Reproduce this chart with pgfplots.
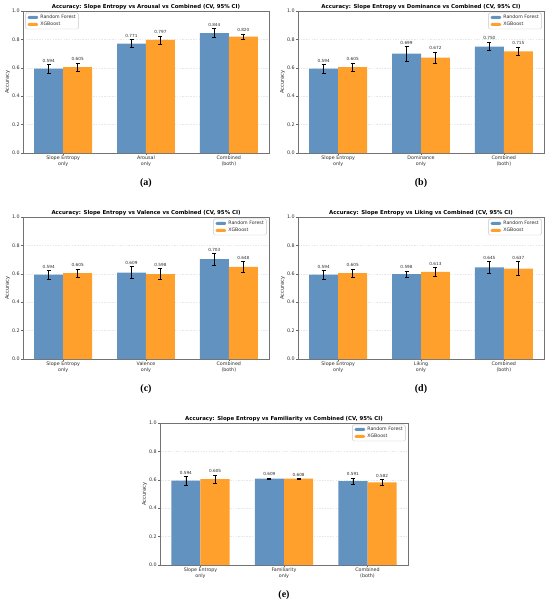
\documentclass[border=0pt]{standalone}
\usepackage{fontspec}
\setmainfont{DejaVu Sans}
\newfontfamily\capfont{Liberation Serif}
\usepackage{pgfplots}
\pgfplotsset{compat=1.18}
\usepackage{pgfplotstable}
\definecolor{rfblue}{RGB}{98,146,192}
\definecolor{xgorange}{RGB}{255,160,44}
\definecolor{txt}{RGB}{45,45,45}

\pgfplotstableread{
x m e
-0.175 0.594 0.030
0.825 0.771 0.030
1.825 0.844 0.031
}\aRF
\pgfplotstableread{
x m e
0.175 0.605 0.030
1.175 0.797 0.028
2.175 0.820 0.018
}\aXG
\pgfplotstableread{
x m e
-0.175 0.594 0.030
0.825 0.699 0.050
1.825 0.750 0.030
}\bRF
\pgfplotstableread{
x m e
0.175 0.605 0.030
1.175 0.672 0.040
2.175 0.715 0.030
}\bXG
\pgfplotstableread{
x m e
-0.175 0.594 0.030
0.825 0.609 0.042
1.825 0.703 0.041
}\cRF
\pgfplotstableread{
x m e
0.175 0.605 0.030
1.175 0.598 0.040
2.175 0.648 0.040
}\cXG
\pgfplotstableread{
x m e
-0.175 0.594 0.030
0.825 0.598 0.020
1.825 0.645 0.041
}\dRF
\pgfplotstableread{
x m e
0.175 0.605 0.030
1.175 0.613 0.030
2.175 0.637 0.050
}\dXG
\pgfplotstableread{
x m e
-0.175 0.594 0.030
0.825 0.609 0.002
1.825 0.591 0.021
}\eRF
\pgfplotstableread{
x m e
0.175 0.605 0.030
1.175 0.608 0.002
2.175 0.582 0.019
}\eXG

\pgfplotsset{
  /pgf/number format/assume math mode=true,
  panel/.style={
    scale only axis, height=142pt,
    xmin=-0.485, xmax=2.485, ymin=0, ymax=1,
    ytick={0,0.2,0.4,0.6,0.8,1.0},
    yticklabel style={/pgf/number format/fixed, /pgf/number format/zerofill, /pgf/number format/precision=1, inner sep=1.2pt},
    xtick={0,1,2},
    xtick pos=bottom, ytick pos=left,
    tick align=outside, major tick length=1.8pt,
    tick style={black!60, line width=0.4pt},
    axis line style={black!55, line width=0.5pt},
    ticklabel style={font=\fontsize{4.8}{6}\selectfont, text=txt},
    xticklabel style={align=center, inner sep=1pt},
    ymajorgrids, major grid style={dash pattern=on 1.5pt off 1.2pt, black!9, line width=0.4pt},
    ylabel={Accuracy},
    ylabel style={font=\fontsize{5.2}{6}\selectfont, text=txt, inner sep=0.8pt},
    title style={font=\bfseries\fontsize{5.4}{6}\selectfont, at={(0.5,1)}, anchor=south, inner sep=0pt, yshift=-4.6pt},
    legend cell align=left,
    legend image code/.code={\fill[##1] (0pt,-1.5pt) rectangle (10.5pt,1.5pt);},
    clip=false,
  },
  rfbar/.style={ybar, bar width=0.35, bar shift=0pt, fill=rfblue, draw=none,
    error bars/.cd, y dir=both, y explicit,
    error bar style={black, line width=0.6pt},
    error mark options={black, mark size=2pt, rotate=90, line width=0.6pt}},
  xgbar/.style={ybar, bar width=0.35, bar shift=0pt, fill=xgorange, draw=none,
    error bars/.cd, y dir=both, y explicit,
    error bar style={black, line width=0.6pt},
    error mark options={black, mark size=2pt, rotate=90, line width=0.6pt}},
  vallab/.style={forget plot, draw=none, mark=none,
    point meta=\thisrow{m},
    nodes near coords={\pgfmathprintnumber[fixed,zerofill,precision=3]{\pgfplotspointmeta}},
    every node near coord/.style={anchor=south, font=\fontsize{4.2}{5}\selectfont, text=txt, inner sep=0.5pt, yshift=1.5pt}},
}

\newcommand{\panel}[9]{%
\begin{axis}[panel, width=#9, at={#1}, anchor=north west,
  title={Accuracy: Slope Entropy vs #2 vs Combined (CV, 95\% CI)},
  xticklabels={{Slope Entropy\\only},{#2\\only},{Combined\\(both)}},
  legend style={#3, font=\fontsize{4.7}{5.6}\selectfont, text=txt, draw=black!22, rounded corners=1.2pt,
    inner xsep=2pt, inner ysep=1.4pt, row sep=0.8pt, column sep=1.6pt, nodes={inner sep=0.6pt}, fill=white}]
\addplot[rfbar] table[x=x, y=m, y error=e]{#4};
\addlegendentry{Random Forest}
\addplot[xgbar] table[x=x, y=m, y error=e]{#5};
\addlegendentry{XGBoost}
\addplot[vallab] table[x=x, y expr=\thisrow{m}+\thisrow{e}]{#4};
\addplot[vallab] table[x=x, y expr=\thisrow{m}+\thisrow{e}]{#5};
\node[font=\capfont\bfseries\fontsize{10}{12}\selectfont, anchor=center] at (rel axis cs:0.5,0) [yshift=-30pt] {#6};
\end{axis}}

\begin{document}
\begin{tikzpicture}
\useasboundingbox (0,0) rectangle (550pt,-606pt);
\panel{(23pt,-11pt)}{Arousal}{at={(0.01,0.988)},anchor=north west}{\aRF}{\aXG}{(a)}{}{}{246pt}
\panel{(298pt,-11pt)}{Dominance}{at={(0.99,0.988)},anchor=north east}{\bRF}{\bXG}{(b)}{}{}{246pt}
\panel{(23pt,-217pt)}{Valence}{at={(0.99,0.988)},anchor=north east}{\cRF}{\cXG}{(c)}{}{}{246pt}
\panel{(298pt,-217pt)}{Liking}{at={(0.99,0.988)},anchor=north east}{\dRF}{\dXG}{(d)}{}{}{246pt}
\panel{(160pt,-423pt)}{Familiarity}{at={(0.99,0.988)},anchor=north east}{\eRF}{\eXG}{(e)}{}{}{248pt}
\end{tikzpicture}
\end{document}
